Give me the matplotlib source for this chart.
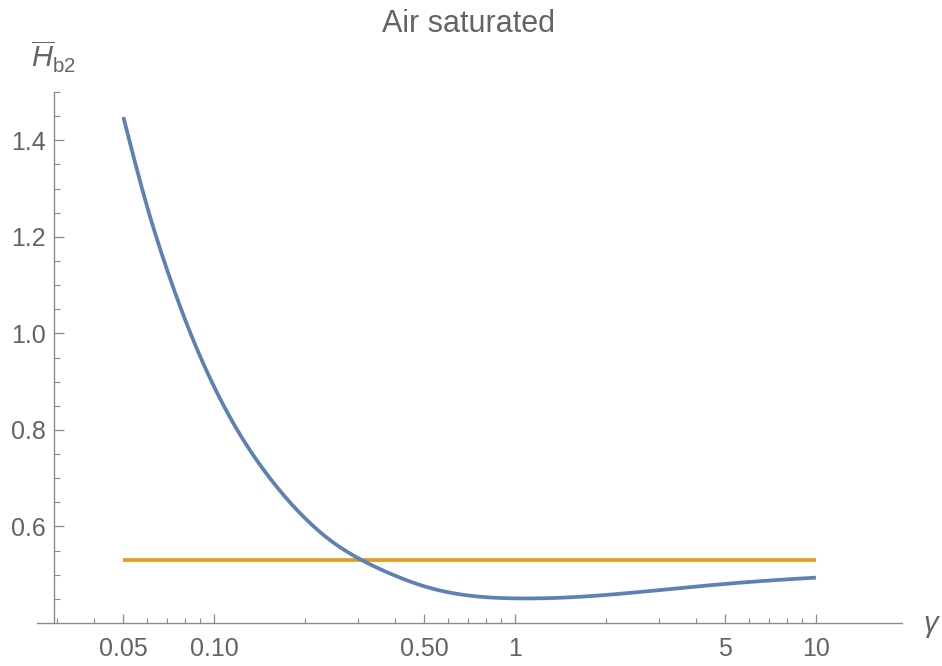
import numpy as np
import matplotlib
matplotlib.use("Agg")
import matplotlib.pyplot as plt
from matplotlib.ticker import FixedLocator, FixedFormatter, NullFormatter

plt.rcParams['font.family'] = ['Liberation Sans', 'DejaVu Sans']
plt.rcParams['mathtext.fontset'] = 'custom'
plt.rcParams['mathtext.rm'] = 'Liberation Sans'
plt.rcParams['mathtext.it'] = 'Liberation Sans:italic'

# data
gamma = [0.05, 0.06, 0.07, 0.08, 0.09, 0.10, 0.12, 0.15, 0.20, 0.25, 0.30,
         0.40, 0.50, 0.70, 1.0, 1.5, 2.0, 3.0, 5.0, 7.0, 10.0]
hb2 = [1.448, 1.262, 1.130, 1.030, 0.952, 0.890, 0.798, 0.708, 0.618, 0.566,
       0.535, 0.498, 0.476, 0.457, 0.451, 0.453, 0.458, 0.468, 0.481, 0.488, 0.494]
const_x = [0.05, 10.0]
const_y = [0.53, 0.53]

x_major = [0.05, 0.1, 0.5, 1, 5, 10]
x_major_labels = ["0.05", "0.10", "0.50", "1", "5", "10"]
x_minor = [0.03, 0.04, 0.06, 0.07, 0.08, 0.09, 0.2, 0.3, 0.4, 0.6, 0.7, 0.8, 0.9,
           2, 3, 4, 6, 7, 8, 9]
y_major = [0.6, 0.8, 1.0, 1.2, 1.4]
y_major_labels = ["0.6", "0.8", "1.0", "1.2", "1.4"]
y_minor = [0.45, 0.5, 0.55, 0.65, 0.7, 0.75, 0.85, 0.9, 0.95, 1.05, 1.1, 1.15,
           1.25, 1.3, 1.35, 1.45, 1.5]


def natural_spline(x, y, xn):
    x = np.asarray(x, float); y = np.asarray(y, float)
    n = len(x); h = np.diff(x)
    A = np.zeros((n, n)); r = np.zeros(n)
    A[0, 0] = 1; A[-1, -1] = 1
    for i in range(1, n - 1):
        A[i, i - 1] = h[i - 1]; A[i, i] = 2 * (h[i - 1] + h[i]); A[i, i + 1] = h[i]
        r[i] = 6 * ((y[i + 1] - y[i]) / h[i] - (y[i] - y[i - 1]) / h[i - 1])
    M = np.linalg.solve(A, r)
    idx = np.clip(np.searchsorted(x, xn) - 1, 0, n - 2)
    hi = h[idx]; a = x[idx + 1] - xn; b = xn - x[idx]
    return (M[idx] * a**3 / (6 * hi) + M[idx + 1] * b**3 / (6 * hi)
            + (y[idx] / hi - M[idx] * hi / 6) * a + (y[idx + 1] / hi - M[idx + 1] * hi / 6) * b)


W, H = 942, 666
fig = plt.figure(figsize=(W / 100, H / 100), dpi=100)
ax = fig.add_axes([37 / W, (H - 623) / H, (902 - 37) / W, (623 - 92) / H])

lx = np.log10(gamma)
xs = np.linspace(lx[0], lx[-1], 500)
ys = natural_spline(lx, hb2, xs)

ax.plot(const_x, const_y, color='#E19C24', lw=2.7, solid_capstyle='butt', zorder=3)
ax.plot(10**xs, ys, color='#5E81B5', lw=2.7, solid_capstyle='butt', zorder=4)

ax.set_xscale('log')
ax.set_xlim(10**-1.588, 10**1.286)
ax.set_ylim(0.4, 1.5)

for s in ['top', 'right']:
    ax.spines[s].set_visible(False)
axis_col = '#8c8c8c'
ax.spines['left'].set_position(('data', 10**-1.532))
for s in ['left', 'bottom']:
    ax.spines[s].set_color(axis_col)
    ax.spines[s].set_linewidth(1.0)

ax.xaxis.set_major_locator(FixedLocator(x_major))
ax.xaxis.set_major_formatter(FixedFormatter(x_major_labels))
ax.xaxis.set_minor_locator(FixedLocator(x_minor))
ax.xaxis.set_minor_formatter(NullFormatter())
ax.yaxis.set_major_locator(FixedLocator(y_major))
ax.yaxis.set_major_formatter(FixedFormatter(y_major_labels))
ax.yaxis.set_minor_locator(FixedLocator(y_minor))
ax.yaxis.set_minor_formatter(NullFormatter())

lab_col = '#646464'
ax.tick_params(axis='x', which='major', direction='in', length=6.5, width=0.9,
               color=axis_col, labelsize=18, labelcolor=lab_col, pad=10)
ax.tick_params(axis='x', which='minor', direction='in', length=3.6, width=0.8, color=axis_col)
ax.tick_params(axis='y', which='major', direction='in', length=7.2, width=0.9,
               color=axis_col, labelsize=18, labelcolor=lab_col, pad=6)
ax.tick_params(axis='y', which='minor', direction='in', length=4.3, width=0.8, color=axis_col)

fig.text(469 / W, 1 - 24 / H, 'Air saturated', ha='center', va='center',
         fontsize=22, color=lab_col)
fig.text(31 / W, 1 - 57 / H, r'$\overline{H}_{\mathrm{b2}}$', ha='left', va='center',
         fontsize=21, color=lab_col)
fig.text(923 / W, 1 - 626 / H, r'$\gamma$', ha='left', va='center',
         fontsize=21, color=lab_col)

fig.savefig('out.png', dpi=100)
